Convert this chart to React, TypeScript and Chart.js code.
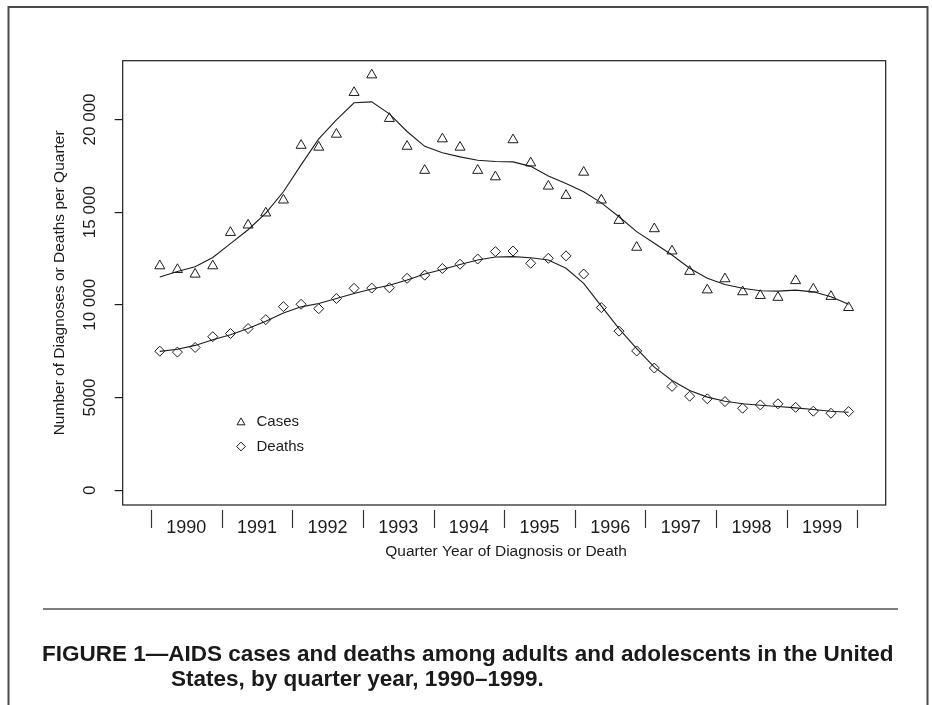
import React, { useEffect, useRef } from "react";
import { Chart, registerables } from "chart.js";

Chart.register(...registerables);

// ---------- data ----------
const years = ["1990", "1991", "1992", "1993", "1994", "1995", "1996", "1997", "1998", "1999"];
const quarterNames = ["Q1", "Q2", "Q3", "Q4"];
const quarters = years.flatMap((y) => quarterNames.map((q) => `${y} ${q}`));

const casesObserved = [
  12100, 11900, 11650, 12100, 13900, 14300, 14950, 15650, 18600, 18500,
  19200, 21450, 22400, 20050, 18550, 17250, 18950, 18500, 17250, 16900,
  18900, 17650, 16400, 15900, 17150, 15650, 14550, 13100, 14100, 12900,
  11800, 10800, 11400, 10700, 10500, 10400, 11300, 10850, 10450, 9850,
];
const casesSmoothed = [
  11500, 11800, 12050, 12550, 13300, 14050, 14950, 16100, 17550, 18950,
  19980, 20900, 20950, 20300, 19350, 18550, 18200, 17980, 17800, 17730,
  17710, 17470, 16950, 16550, 16100, 15500, 14750, 13950, 13320, 12690,
  11970, 11430, 11100, 10890, 10760, 10740, 10790, 10700, 10430, 10030,
];
const deathsObserved = [
  7500, 7450, 7700, 8280, 8450, 8720, 9200, 9900, 10030, 9790,
  10340, 10890, 10900, 10920, 11430, 11600, 11960, 12190, 12470, 12870,
  12900, 12240, 12510, 12640, 11660, 9850, 8580, 7510, 6590, 5600,
  5070, 4930, 4780, 4420, 4600, 4660, 4470, 4260, 4150, 4240,
];
const deathsSmoothed = [
  7490, 7600, 7810, 8120, 8390, 8720, 9110, 9560, 9890, 10070,
  10340, 10610, 10850, 11060, 11340, 11660, 11910, 12180, 12420, 12580,
  12600, 12540, 12420, 11970, 11160, 9930, 8720, 7640, 6640, 5920,
  5380, 5020, 4800, 4660, 4580, 4510, 4440, 4350, 4260, 4200,
];
const yTickValues = [0, 5000, 10000, 15000, 20000];
const yTickLabels = ["0", "5000", "10 000", "15 000", "20 000"];

const yTitle = "Number of Diagnoses or Deaths per Quarter";
const xTitle = "Quarter Year of Diagnosis or Death";
const legendLabels = ["Cases", "Deaths"];
const captionLine1 = "FIGURE 1\u2014AIDS cases and deaths among adults and adolescents in the United";
const captionLine2 = "States, by quarter year, 1990\u20131999.";

// ---------- helpers ----------
const FONT = "'Liberation Sans', Arial, Helvetica, sans-serif";
const INK = "#1c1c1c";

const toPoints = (arr: number[]) => arr.map((v, i) => ({ x: i, y: v }));
const yearCenters = years.map((_, k) => k * 4 + 1.5);
const yearBoundaries = [...years.map((_, k) => k * 4 - 0.5), years.length * 4 - 0.5];

function drawTriangle(ctx: CanvasRenderingContext2D, x: number, y: number, r: number) {
  ctx.beginPath();
  for (let k = 0; k < 3; k++) {
    const a = (k * 2 * Math.PI) / 3;
    const px = x + Math.sin(a) * r;
    const py = y - Math.cos(a) * r;
    if (k === 0) ctx.moveTo(px, py);
    else ctx.lineTo(px, py);
  }
  ctx.closePath();
  ctx.stroke();
}
function drawDiamond(ctx: CanvasRenderingContext2D, x: number, y: number, r: number) {
  ctx.beginPath();
  ctx.moveTo(x - r, y);
  ctx.lineTo(x, y - r);
  ctx.lineTo(x + r, y);
  ctx.lineTo(x, y + r);
  ctx.closePath();
  ctx.stroke();
}

const decorPlugin = {
  id: "decor",
  beforeDraw(chart: any) {
    const ctx = chart.ctx;
    ctx.save();
    ctx.fillStyle = "#ffffff";
    ctx.fillRect(0, 0, chart.width, chart.height);
    ctx.restore();
  },
  afterDraw(chart: any) {
    const ctx: CanvasRenderingContext2D = chart.ctx;
    const a = chart.chartArea;
    const xs = chart.scales.x;
    const ys = chart.scales.y;
    ctx.save();

    // plot box
    ctx.strokeStyle = INK;
    ctx.lineWidth = 1.2;
    ctx.strokeRect(a.left, a.top, a.right - a.left, a.bottom - a.top);

    // year separators below axis
    ctx.lineWidth = 1.2;
    ctx.strokeStyle = "#333";
    yearBoundaries.forEach((v) => {
      const px = Math.round(xs.getPixelForValue(v)) + 0.5;
      ctx.beginPath();
      ctx.moveTo(px, a.bottom + 5);
      ctx.lineTo(px, a.bottom + 23);
      ctx.stroke();
    });

    // rotated y tick labels
    ctx.fillStyle = INK;
    ctx.font = `17px ${FONT}`;
    ctx.textAlign = "center";
    ctx.textBaseline = "middle";
    yTickValues.forEach((v, k) => {
      const py = ys.getPixelForValue(v);
      ctx.save();
      ctx.translate(a.left - 32, py);
      ctx.rotate(-Math.PI / 2);
      ctx.fillText(yTickLabels[k], 0, 0);
      ctx.restore();
    });

    // axis titles
    ctx.font = `15.5px ${FONT}`;
    ctx.save();
    ctx.translate(60, (a.top + a.bottom) / 2);
    ctx.rotate(-Math.PI / 2);
    ctx.fillText(yTitle, 0, 0);
    ctx.restore();
    ctx.fillText(xTitle, 506, 552);

    // legend
    ctx.strokeStyle = INK;
    ctx.lineWidth = 1;
    drawTriangle(ctx, 241, 422.5, 4.6);
    drawDiamond(ctx, 241, 446.5, 4.4);
    ctx.font = `15px ${FONT}`;
    ctx.textAlign = "left";
    ctx.fillText(legendLabels[0], 256.5, 421.5);
    ctx.fillText(legendLabels[1], 256.5, 446.5);

    // outer frame (open at bottom)
    ctx.strokeStyle = "#4a4a4a";
    ctx.lineWidth = 2;
    ctx.beginPath();
    ctx.moveTo(8.5, 705);
    ctx.lineTo(8.5, 7);
    ctx.lineTo(927.5, 7);
    ctx.lineTo(927.5, 705);
    ctx.stroke();

    // rule above caption
    ctx.strokeStyle = "#555";
    ctx.lineWidth = 1.6;
    ctx.beginPath();
    ctx.moveTo(43, 609);
    ctx.lineTo(898, 609);
    ctx.stroke();

    // caption
    ctx.fillStyle = "#1a1a1a";
    ctx.font = `bold 22.5px ${FONT}`;
    ctx.textAlign = "left";
    ctx.textBaseline = "middle";
    ctx.fillText(captionLine1, 42, 655);
    ctx.fillText(captionLine2, 171, 680);

    ctx.restore();
  },
};

export default function App() {
  const canvasRef = useRef<HTMLCanvasElement | null>(null);

  useEffect(() => {
    const canvas = canvasRef.current;
    if (!canvas) return;
    const chart = new Chart(canvas, {
      type: "line",
      data: {
        labels: quarters,
        datasets: [
          {
            label: legendLabels[0],
            data: toPoints(casesObserved),
            showLine: false,
            pointStyle: "triangle",
            pointRadius: 5.8,
            pointBorderWidth: 1,
            pointBorderColor: INK,
            pointBackgroundColor: "rgba(0,0,0,0)",
            borderColor: INK,
          },
          {
            label: legendLabels[0] + " (smoothed)",
            data: toPoints(casesSmoothed),
            pointRadius: 0,
            borderColor: INK,
            borderWidth: 1.1,
            tension: 0,
            fill: false,
          },
          {
            label: legendLabels[1],
            data: toPoints(deathsObserved),
            showLine: false,
            pointStyle: "rectRot",
            pointRadius: 5,
            pointBorderWidth: 1,
            pointBorderColor: INK,
            pointBackgroundColor: "rgba(0,0,0,0)",
            borderColor: INK,
          },
          {
            label: legendLabels[1] + " (smoothed)",
            data: toPoints(deathsSmoothed),
            pointRadius: 0,
            borderColor: INK,
            borderWidth: 1.1,
            tension: 0,
            fill: false,
          },
        ],
      },
      options: {
        animation: false,
        responsive: false,
        devicePixelRatio: window.devicePixelRatio || 1,
        layout: { padding: { top: 60.7, right: 46.3, bottom: 0, left: 0 } },
        plugins: {
          legend: { display: false },
          tooltip: { enabled: false },
          title: { display: false },
        },
        scales: {
          x: {
            type: "linear",
            min: -2.1,
            max: 41.1,
            afterBuildTicks: (scale: any) => {
              scale.ticks = yearCenters.map((v) => ({ value: v }));
            },
            afterFit: (scale: any) => {
              scale.height = 200;
            },
            ticks: {
              autoSkip: false,
              maxRotation: 0,
              minRotation: 0,
              padding: 4,
              color: INK,
              font: { family: FONT, size: 18 },
              callback: (value: any) => {
                const k = yearCenters.indexOf(Number(value));
                return k >= 0 ? years[k] : "";
              },
            },
            grid: { display: false },
            border: { display: false },
          },
          y: {
            type: "linear",
            min: -800,
            max: 23170,
            afterBuildTicks: (scale: any) => {
              scale.ticks = yTickValues.map((v) => ({ value: v }));
            },
            afterFit: (scale: any) => {
              scale.width = 122.7;
            },
            ticks: { display: false },
            grid: {
              display: true,
              drawOnChartArea: false,
              drawTicks: true,
              tickLength: 8,
              color: INK,
              lineWidth: 1.2,
            },
            border: { display: false },
          },
        },
      },
      plugins: [decorPlugin],
    } as any);
    return () => chart.destroy();
  }, []);

  return (
    <div style={{ position: "fixed", left: 0, top: 0, width: 932, height: 705, background: "#fff" }}>
      <canvas ref={canvasRef} width={932} height={705} style={{ width: 932, height: 705, display: "block" }} />
    </div>
  );
}
